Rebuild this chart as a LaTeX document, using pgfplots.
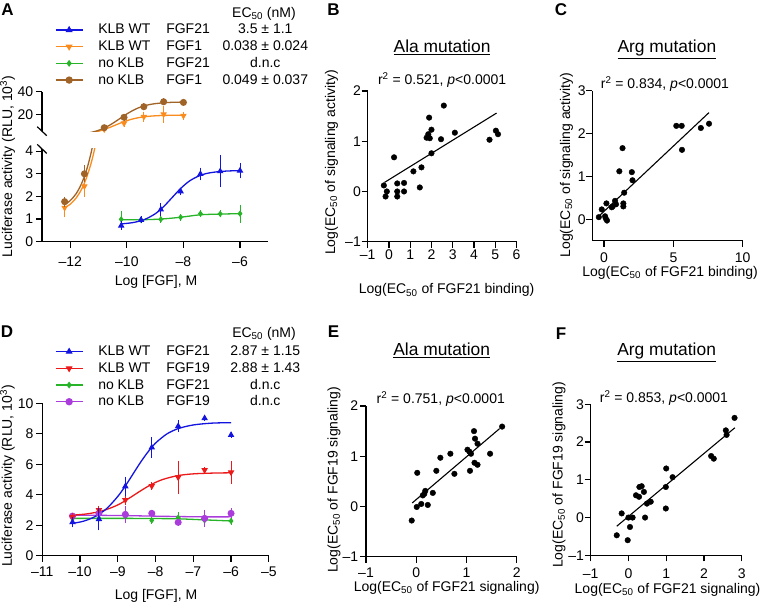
\documentclass[border=0pt]{standalone}
\usepackage{fontspec}
\setmainfont{Liberation Sans}
\setsansfont{Liberation Sans}
\usepackage{pgfplots}
\pgfplotsset{compat=1.18}

\definecolor{kblue}{RGB}{20,20,225}
\definecolor{korange}{RGB}{250,140,30}
\definecolor{kgreen}{RGB}{40,180,40}
\definecolor{kbrown}{RGB}{160,100,40}
\definecolor{kred}{RGB}{235,25,25}
\definecolor{kpurple}{RGB}{170,60,220}

\newcommand{\fs}{\fontsize{14bp}{16bp}\selectfont}
\newcommand{\ft}{\fontsize{17.4bp}{19bp}\selectfont}
\newcommand{\fl}{\fontsize{17bp}{19bp}\selectfont\bfseries}
\newcommand{\m}{\textendash}

\pgfplotsset{
  base/.style={scale only axis, anchor=south west,
    axis x line=bottom, axis y line=left,
    axis line style={-, line width=1.2bp, black},
    tick align=outside, major tick length=6bp,
    tick style={line width=1.2bp, black},
    font=\fs, clip mode=individual,
    xticklabel style={inner sep=0pt, anchor=north, font=\fs},
    yticklabel style={inner sep=0pt, anchor=east, font=\fs},
    label style={font=\fs},
  },
  dat/.style={only marks, line width=1bp, mark options={solid}},
  eb/.style={error bars/.cd, y dir=both, y explicit,
    error bar style={line width=1bp}, error mark options={line width=1bp, mark size=2.8bp}},
  fit/.style={no marks, smooth, line width=1.3bp},
  sc/.style={only marks, mark=*, mark size=2.8bp, black},
  reg/.style={no marks, black, line width=1.1bp},
  leg/.style={
    legend style={draw=none, fill=none, inner sep=0pt, outer sep=0pt, row sep=2.7bp,
      nodes={inner sep=0pt, text height=11bp, text depth=3bp, font=\fs},
      /tikz/every odd column/.append style={column sep=15bp}, anchor=north west},
    legend cell align=left,
    legend image code/.code={\draw[mark repeat=2,mark phase=2,##1] plot coordinates {(0bp,0bp) (13.5bp,0bp) (27bp,0bp)};},
  },
}

\newcommand{\lgd}[3]{\makebox[68bp][l]{#1}\makebox[54bp][l]{#2}\makebox[90bp][c]{#3}}

\begin{document}
\begin{tikzpicture}
\useasboundingbox (0bp,0bp) rectangle (760bp,-605bp);

% ---------------- Panel A: upper segment ----------------
\begin{axis}[base, at={(42bp,-131.2bp)}, width=226.3bp, height=39.5bp,
  axis x line=none,
  xmin=-13, xmax=-5, ymin=5, ymax=40,
  ytick={20,40}, yticklabels={20,40}, yticklabel style={xshift=-2.7bp}]
\addplot[korange, fit] coordinates {(-11.2,3.77) (-11.0,4.97) (-10.8,6.52) (-10.6,8.41) (-10.4,10.46) (-10.2,12.49) (-10.0,14.32) (-9.8,15.8) (-9.6,16.92) (-9.4,17.72) (-9.2,18.27) (-9.0,18.64) (-8.7,18.96) (-8.4,19.13) (-8.0,19.23)};
\addplot[kbrown, fit] coordinates {(-11.4,3.27) (-11.2,4.30) (-11.0,5.79) (-10.8,7.83) (-10.6,10.47) (-10.4,13.6) (-10.2,17.0) (-10.0,20.3) (-9.8,23.2) (-9.6,25.6) (-9.4,27.3) (-9.2,28.6) (-9.0,29.4) (-8.7,30.2) (-8.4,30.6) (-8.0,30.8)};
\addplot[korange, dat, mark=triangle*, mark size=2.8bp, mark options={rotate=180}, eb] coordinates {
 (-10.8,6.7) +- (0,0.5) (-10.1,12.0) +- (0,1.0) (-9.4,17.8) +- (0,2.0) (-8.7,20.0) +- (0,5.0) (-8.0,18.7) +- (0,1.0)};
\addplot[kbrown, dat, mark=*, mark size=3bp, eb] coordinates {
 (-10.8,8.1) +- (0,0.3) (-10.1,17.3) +- (0,0.5) (-9.4,26.7) +- (0,0.5) (-8.7,31.1) +- (0,0.5) (-8.0,30.5) +- (0,0.5)};
\draw[line width=1.2bp] (rel axis cs:0,0) ++(-4.75bp,4.5bp) -- ++(9.5bp,-9bp);
\end{axis}

% ---------------- Panel A: lower segment ----------------
\begin{axis}[base, leg, at={(42bp,-241.7bp)}, width=226.3bp, height=92.8bp,
  xmin=-13, xmax=-5, ymin=0, ymax=4.1,
  xtick={-12,-10,-8,-6}, xticklabels={\m12,\m10,\m8,\m6},
  ytick={0,1,2,3,4}, yticklabels={0,1,2,3,4},
  xticklabel style={yshift=-9bp}, yticklabel style={xshift=-2.7bp},
  xlabel={Log [FGF], M}, xlabel style={at={(axis description cs:0.504,-0.474)}, anchor=base},
  ylabel={Luciferase activity (RLU, 10\textsuperscript{3})},
  ylabel style={at={(axis description cs:-0.1525,0.810)}, anchor=center},
  legend style={at={(axis description cs:0.0574,2.357)}}]
\addlegendimage{kblue, line width=1.3bp, mark=triangle*, mark size=2.8bp}
\addlegendentry{\lgd{KLB WT}{FGF21}{3.5 ± 1.1}}
\addlegendimage{korange, line width=1.3bp, mark=triangle*, mark size=2.8bp, mark options={rotate=180}}
\addlegendentry{\lgd{KLB WT}{FGF1}{0.038 ± 0.024}}
\addlegendimage{kgreen, line width=1.3bp, mark=diamond*, mark size=2.4bp}
\addlegendentry{\lgd{no KLB}{FGF21}{d.n.c}}
\addlegendimage{kbrown, line width=1.3bp, mark=*, mark size=3bp}
\addlegendentry{\lgd{no KLB}{FGF1}{0.049 ± 0.037}}

\addplot[korange, fit, forget plot] coordinates {(-12.2,1.50) (-12.0,1.66) (-11.8,1.92) (-11.6,2.32) (-11.4,2.92) (-11.2,3.77) (-11.0,4.97) (-10.8,6.52)};
\addplot[kbrown, fit, forget plot] coordinates {(-12.2,1.63) (-12.0,1.82) (-11.8,2.11) (-11.6,2.57) (-11.4,3.27) (-11.2,4.30) (-11.0,5.79)};
\addplot[kgreen, fit, forget plot] coordinates {(-10.2,0.97) (-9.5,0.97) (-8.8,1.0) (-8.1,1.08) (-7.4,1.19) (-6.7,1.22) (-6.0,1.24)};
\addplot[kblue, fit, forget plot] coordinates {(-10.2,0.787) (-9.8,0.842) (-9.4,0.968) (-9.0,1.232) (-8.7,1.55) (-8.4,1.95) (-8.1,2.35) (-7.8,2.67) (-7.5,2.88) (-7.2,3.01) (-6.8,3.09) (-6.4,3.126) (-6.0,3.14)};
\addplot[korange, dat, mark=triangle*, mark size=2.8bp, mark options={rotate=180}, forget plot, eb] coordinates {
 (-12.2,1.5) +- (0,0.3) (-11.5,2.45) +- (0,0.35)};
\addplot[kbrown, dat, mark=*, mark size=3bp, forget plot, eb] coordinates {
 (-12.2,1.77) +- (0,0.1) (-11.5,3.0) +- (0,0.25)};
\addplot[kgreen, dat, mark=diamond*, mark size=2.4bp, forget plot, eb] coordinates {
 (-10.2,0.99) +- (0,0.24) (-9.5,0.96) +- (0,0.02) (-8.8,0.99) +- (0,0.02) (-8.1,1.08) +- (0,0.02) (-7.4,1.24) +- (0,0.03) (-6.7,1.23) +- (0,0.03) (-6.0,1.24) +- (0,0.27)};
\addplot[kblue, dat, mark=triangle*, mark size=2.8bp, forget plot, eb] coordinates {
 (-10.2,0.71) +- (0,0.06) (-9.5,0.96) +- (0,0.03) (-8.8,1.42) +- (0,0.15) (-8.1,2.22) +- (0,0.05) (-7.4,2.99) +- (0,0.16) (-6.7,3.11) +- (0,0.58) (-6.0,3.14) +- (0,0.22)};
\node[anchor=base, font=\fs] at (axis description cs:0.981,2.418) {EC\textsubscript{50} (nM)};
\draw[line width=1.2bp] (rel axis cs:0,1) ++(-4.75bp,4.5bp) -- ++(9.5bp,-9bp);
\end{axis}

% ---------------- Panel B ----------------
\begin{axis}[base, at={(367.7bp,-241.7bp)}, width=148.8bp, height=150.7bp,
  xmin=-1, xmax=6, ymin=-1, ymax=2,
  xtick={-1,0,1,2,3,4,5,6}, xticklabels={\m1,0,1,2,3,4,5,6},
  ytick={-1,0,1,2}, yticklabels={\m1,0,1,2},
  xticklabel style={yshift=-2.3bp}, yticklabel style={xshift=-0.7bp},
  xlabel={Log(EC\textsubscript{50} of FGF21 binding)}, xlabel style={at={(axis description cs:0.53,-0.347)}, anchor=base},
  ylabel={Log(EC\textsubscript{50} of signaling activity)}, ylabel style={at={(axis description cs:-0.244,0.526)}, anchor=center}]
\addplot[sc] coordinates {(-0.24,0.12) (-0.1,0.0) (-0.16,-0.1) (0.24,0.68) (0.39,0.16) (0.39,0.0) (0.39,-0.1) (0.71,0.17) (0.71,0.0) (1.15,0.40) (1.45,0.08) (1.53,0.48) (1.77,1.07) (1.85,1.14) (1.89,1.47) (1.92,1.06) (2.0,1.23) (2.0,0.76) (2.45,1.04) (2.58,1.71) (3.1,1.17) (4.73,1.03) (5.03,1.21) (5.13,1.14)};
\addplot[reg] coordinates {(-0.21,0.18) (5.06,1.56)};
\node[anchor=base, font=\ft] at (axis description cs:0.5,1.254) {\underline{Ala mutation}};
\node[anchor=base, font=\fs] at (axis description cs:0.5,1.04) {r\textsuperscript{2} = 0.521, \textit{p}<0.0001};
\end{axis}

% ---------------- Panel C ----------------
\begin{axis}[base, at={(592.3bp,-240.7bp)}, width=150.4bp, height=150bp,
  xmin=-0.85, xmax=10, ymin=-0.5, ymax=3,
  xtick={0,5,10}, xticklabels={0,5,10},
  ytick={0,1,2,3}, yticklabels={0,1,2,3},
  xticklabel style={yshift=-6bp}, yticklabel style={xshift=-0.5bp},
  xlabel={Log(EC\textsubscript{50} of FGF21 binding)}, xlabel style={at={(axis description cs:0.517,-0.24)}, anchor=base},
  ylabel={Log(EC\textsubscript{50} of signaling activity)}, ylabel style={at={(axis description cs:-0.172,0.505)}, anchor=center}]
\addplot[sc] coordinates {(-0.38,0.05) (-0.17,0.23) (0.07,0.07) (0.12,0.02) (0.21,-0.03) (0.17,0.37) (0.55,0.28) (0.62,0.3) (0.79,0.43) (0.86,0.35) (1.39,0.37) (1.39,0.3) (1.1,1.12) (1.33,1.66) (1.45,0.62) (2.0,1.1) (2.05,0.91) (5.21,2.18) (5.6,2.18) (5.62,1.62) (6.98,2.13) (7.57,2.23)};
\addplot[reg] coordinates {(-0.48,0.04) (7.57,2.49)};
\node[anchor=base, font=\ft] at (axis description cs:0.496,1.253) {\underline{Arg mutation}};
\node[anchor=base, font=\fs] at (axis description cs:0.483,1.016) {r\textsuperscript{2} = 0.834, \textit{p}<0.0001};
\end{axis}

% ---------------- Panel D ----------------
\begin{axis}[base, leg, at={(42.3bp,-555.7bp)}, width=226.5bp, height=152.4bp,
  xmin=-11, xmax=-5, ymin=0, ymax=10,
  xtick={-11,-10,-9,-8,-7,-6,-5}, xticklabels={\m11,\m10,\m9,\m8,\m7,\m6,\m5},
  ytick={0,2,4,6,8,10}, yticklabels={0,2,4,6,8,10},
  xticklabel style={yshift=-5bp}, yticklabel style={xshift=-2.7bp},
  xlabel={Log [FGF], M}, xlabel style={at={(axis description cs:0.502,-0.29)}, anchor=base},
  ylabel={Luciferase activity (RLU, 10\textsuperscript{3})},
  ylabel style={at={(axis description cs:-0.154,0.523)}, anchor=center},
  legend style={at={(axis description cs:0.056,1.385)}}]
\addlegendimage{kblue, line width=1.3bp, mark=triangle*, mark size=2.8bp}
\addlegendentry{\lgd{KLB WT}{FGF21}{2.87 ± 1.15}}
\addlegendimage{kred, line width=1.3bp, mark=triangle*, mark size=2.8bp, mark options={rotate=180}}
\addlegendentry{\lgd{KLB WT}{FGF19}{2.88 ± 1.43}}
\addlegendimage{kgreen, line width=1.3bp, mark=diamond*, mark size=2.4bp}
\addlegendentry{\lgd{no KLB}{FGF21}{d.n.c}}
\addlegendimage{kpurple, line width=1.3bp, mark=*, mark size=3bp}
\addlegendentry{\lgd{no KLB}{FGF19}{d.n.c}}

\addplot[kgreen, fit, forget plot] coordinates {(-10.2,2.45) (-9.5,2.45) (-8.8,2.45) (-8.1,2.44) (-7.4,2.42) (-6.7,2.35) (-6.0,2.28)};
\addplot[kpurple, fit, forget plot] coordinates {(-10.2,2.66) (-9.5,2.65) (-8.8,2.63) (-8.1,2.6) (-7.4,2.57) (-6.7,2.55) (-6.0,2.55)};
\addplot[kred, fit, forget plot] coordinates {(-10.2,2.66) (-9.8,2.75) (-9.4,2.95) (-9.0,3.33) (-8.7,3.77) (-8.4,4.25) (-8.1,4.69) (-7.8,5.01) (-7.4,5.26) (-7.0,5.37) (-6.5,5.42) (-6.0,5.44)};
\addplot[kblue, fit, forget plot] coordinates {(-10.2,2.12) (-9.9,2.27) (-9.6,2.57) (-9.3,3.08) (-9.0,3.89) (-8.8,4.58) (-8.6,5.35) (-8.4,6.12) (-8.2,6.81) (-8.0,7.39) (-7.7,7.99) (-7.4,8.34) (-7.0,8.58) (-6.5,8.70) (-6.0,8.73)};
\addplot[kgreen, dat, mark=diamond*, mark size=2.4bp, forget plot, eb] coordinates {
 (-10.2,2.45) +- (0,0.05) (-9.5,2.45) +- (0,0.05) (-8.8,2.56) +- (0,0.2) (-8.1,2.32) +- (0,0.05) (-7.4,2.5) +- (0,0.2) (-6.7,2.32) +- (0,0.05) (-6.0,2.28) +- (0,0.05)};
\addplot[kpurple, dat, mark=*, mark size=3bp, forget plot, eb] coordinates {
 (-10.2,2.6) +- (0,0.05) (-9.5,2.78) +- (0,0.05) (-8.8,2.71) +- (0,0.4) (-8.1,2.78) +- (0,0.05) (-7.4,2.19) +- (0,0.05) (-6.7,2.45) +- (0,0.35) (-6.0,2.78) +- (0,0.15)};
\addplot[kred, dat, mark=triangle*, mark size=2.8bp, mark options={rotate=180}, forget plot, eb] coordinates {
 (-10.2,2.55) +- (0,0.05) (-9.5,3.0) +- (0,0.1) (-8.8,3.65) +- (0,0.15) (-8.1,4.57) +- (0,0.08) (-7.4,5.14) +- (0,0.9) (-6.7,5.62) +- (0,0.0) (-6.0,5.47) +- (0,0.55)};
\addplot[kblue, dat, mark=triangle*, mark size=2.8bp, forget plot, eb] coordinates {
 (-10.2,2.2) +- (0,0.15) (-9.5,2.4) +- (0,0.55) (-8.8,4.55) +- (0,0.45) (-8.1,7.1) +- (0,0.5) (-7.4,8.5) +- (0,0.2) (-6.7,9.02) +- (0,0.0) (-6.0,7.92) +- (0,0.0)};
\node[anchor=base, font=\fs] at (axis description cs:0.979,1.433) {EC\textsubscript{50} (nM)};
\end{axis}

% ---------------- Panel E ----------------
\begin{axis}[base, at={(366bp,-556.7bp)}, width=150.7bp, height=150.7bp,
  xmin=-1, xmax=2, ymin=-1, ymax=2,
  xtick={-1,0,1,2}, xticklabels={\m1,0,1,2},
  ytick={-1,0,1,2}, yticklabels={\m1,0,1,2},
  xticklabel style={yshift=-5bp}, yticklabel style={xshift=-1.7bp},
  xlabel={Log(EC\textsubscript{50} of FGF21 signaling)}, xlabel style={at={(axis description cs:0.535,-0.233)}, anchor=base},
  ylabel={Log(EC\textsubscript{50} of FGF19 signaling)}, ylabel style={at={(axis description cs:-0.212,0.509)}, anchor=center}]
\addplot[sc] coordinates {(-0.09,-0.28) (0.02,0.67) (0.01,-0.01) (0.1,0.05) (0.13,0.22) (0.16,0.25) (0.18,0.31) (0.23,0.03) (0.33,0.27) (0.4,0.71) (0.48,0.97) (0.68,1.05) (0.76,0.65) (1.02,1.13) (1.06,1.09) (1.09,1.05) (1.07,0.71) (1.15,1.5) (1.17,1.35) (1.16,0.87) (1.22,1.25) (1.22,0.83) (1.47,1.05) (1.71,1.59)};
\addplot[reg] coordinates {(-0.08,0.07) (1.66,1.55)};
\node[anchor=base, font=\ft] at (axis description cs:0.502,1.332) {\underline{Ala mutation}};
\node[anchor=base, font=\fs] at (axis description cs:0.496,1.018) {r\textsuperscript{2} = 0.751, \textit{p}<0.0001};
\end{axis}

% ---------------- Panel F ----------------
\begin{axis}[base, at={(590.7bp,-555.3bp)}, width=151bp, height=151bp,
  xmin=-1, xmax=3, ymin=-1, ymax=3,
  xtick={-1,0,1,2,3}, xticklabels={\m1,0,1,2,3},
  ytick={-1,0,1,2,3}, yticklabels={\m1,0,1,2,3},
  xticklabel style={yshift=-7bp}, yticklabel style={xshift=-0.5bp},
  xlabel={Log(EC\textsubscript{50} of FGF21 signaling)}, xlabel style={at={(axis description cs:0.509,-0.252)}, anchor=base},
  ylabel={Log(EC\textsubscript{50} of FGF19 signaling)}, ylabel style={at={(axis description cs:-0.21,0.532)}, anchor=center}]
\addplot[sc] coordinates {(-0.31,-0.47) (-0.18,0.11) (-0.02,-0.6) (0.0,0.0) (0.04,-0.25) (0.11,0.0) (0.2,0.59) (0.28,0.55) (0.29,0.81) (0.35,0.83) (0.41,0.68) (0.44,0.0) (0.49,0.37) (0.59,0.42) (0.99,0.81) (1.0,1.3) (0.99,0.24) (1.17,1.07) (2.19,1.63) (2.26,1.56) (2.58,2.31) (2.6,2.19) (2.81,2.64)};
\addplot[reg] coordinates {(-0.31,-0.23) (2.82,2.38)};
\node[anchor=base, font=\ft] at (axis description cs:0.503,1.32) {\underline{Arg mutation}};
\node[anchor=base, font=\fs] at (axis description cs:0.485,1.013) {r\textsuperscript{2} = 0.853, \textit{p}<0.0001};
\end{axis}

% panel letters
\node[font=\fl] at (7.5bp,-9.5bp) {A};
\node[font=\fl] at (333.5bp,-9.3bp) {B};
\node[font=\fl] at (561bp,-9.5bp) {C};
\node[font=\fl] at (7bp,-331.5bp) {D};
\node[font=\fl] at (333.5bp,-331.5bp) {E};
\node[font=\fl] at (561bp,-334bp) {F};
\end{tikzpicture}
\end{document}
